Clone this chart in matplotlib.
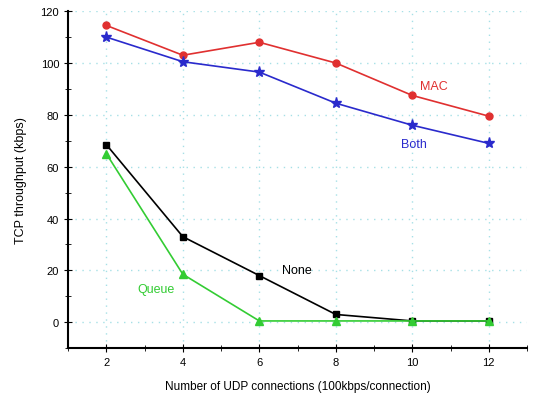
import matplotlib.pyplot as plt
from matplotlib.ticker import MultipleLocator

plt.rcParams['font.family'] = ['Liberation Sans', 'DejaVu Sans']

# number of UDP connections
udp_conns = [2, 4, 6, 8, 10, 12]

mac = [114.5, 103, 108, 100, 87.5, 79.5]
both = [110, 100.5, 96.5, 84.5, 76, 69]
none = [68.5, 33, 18, 3, 0.5, 0.5]
queue = [65, 18.5, 0.5, 0.5, 0.5, 0.5]

fig = plt.figure(figsize=(5.45, 4.06), dpi=100)
ax = fig.add_axes([0.125, 0.14, 0.842, 0.83])

ax.plot(udp_conns, mac, color="#e03030", marker="o", markersize=5, linewidth=1.2)
ax.plot(udp_conns, both, color="#2a2acc", marker="*", markersize=8, linewidth=1.2)
ax.plot(udp_conns, none, color="black", marker="s", markersize=4.5, linewidth=1.2)
ax.plot(udp_conns, queue, color="#33cc33", marker="^", markersize=6, linewidth=1.2)

# curve labels
ax.text(10.2, 91, "MAC", color="#e03030", fontsize=9, va="center")
ax.text(9.7, 68.7, "Both", color="#2a2acc", fontsize=9, va="center")
ax.text(6.6, 20, "None", color="black", fontsize=9, va="center")
ax.text(2.8, 13, "Queue", color="#33cc33", fontsize=9, va="center")

ax.set_xlim(1, 13)
ax.set_ylim(-10, 120)
ax.xaxis.set_major_locator(MultipleLocator(2))
ax.xaxis.set_minor_locator(MultipleLocator(1))
ax.yaxis.set_major_locator(MultipleLocator(20))
ax.yaxis.set_minor_locator(MultipleLocator(10))

ax.set_xticks([2, 4, 6, 8, 10, 12])
ax.set_yticks([0, 20, 40, 60, 80, 100, 120])
ax.tick_params(axis="both", which="major", direction="inout", length=6, labelsize=8)
ax.tick_params(axis="both", which="minor", direction="inout", length=4)

ax.spines["top"].set_visible(False)
ax.spines["right"].set_visible(False)
ax.spines["left"].set_linewidth(1.5)
ax.spines["bottom"].set_linewidth(1.5)

ax.grid(True, which="major", color="#a6e0e6", linestyle=(0, (1, 4)), linewidth=1)

ax.set_xlabel("Number of UDP connections (100kbps/connection)", fontsize=8.5, labelpad=9)
ax.set_ylabel("TCP throughput (kbps)", fontsize=9, labelpad=10)

plt.savefig("out.png", dpi=100)
